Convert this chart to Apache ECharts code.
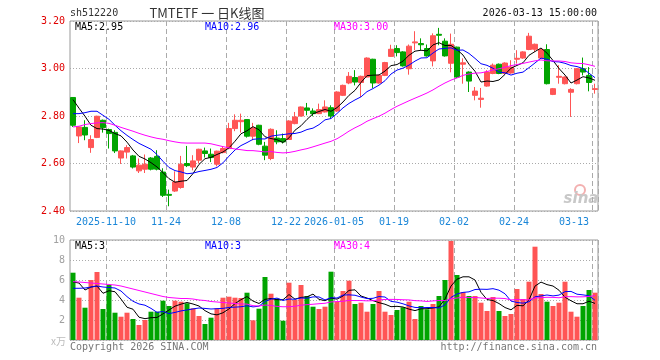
<!DOCTYPE html>
<html><head><meta charset="utf-8">
<script src="https://cdn.jsdelivr.net/npm/echarts@6/dist/echarts.min.js"></script>
<style>html,body{margin:0;padding:0;background:#fff}#c{width:660px;height:360px}</style>
</head><body><div id="c"></div>
<script>
const dates = ['2025-10-31','2025-11-03','2025-11-04','2025-11-05','2025-11-06','2025-11-07','2025-11-10','2025-11-11','2025-11-12','2025-11-13','2025-11-14','2025-11-17','2025-11-18','2025-11-19','2025-11-20','2025-11-21','2025-11-24','2025-11-25','2025-11-26','2025-11-27','2025-11-28','2025-12-01','2025-12-02','2025-12-03','2025-12-04','2025-12-05','2025-12-08','2025-12-09','2025-12-10','2025-12-11','2025-12-12','2025-12-15','2025-12-16','2025-12-17','2025-12-18','2025-12-19','2025-12-22','2025-12-23','2025-12-24','2025-12-25','2025-12-26','2025-12-29','2025-12-30','2025-12-31','2026-01-05','2026-01-06','2026-01-07','2026-01-08','2026-01-09','2026-01-12','2026-01-13','2026-01-14','2026-01-15','2026-01-16','2026-01-19','2026-01-20','2026-01-21','2026-01-22','2026-01-23','2026-01-26','2026-01-27','2026-01-28','2026-01-29','2026-01-30','2026-02-02','2026-02-03','2026-02-04','2026-02-05','2026-02-06','2026-02-09','2026-02-10','2026-02-11','2026-02-12','2026-02-13','2026-02-24','2026-02-25','2026-02-26','2026-02-27','2026-03-02','2026-03-03','2026-03-04','2026-03-05','2026-03-06','2026-03-09','2026-03-10','2026-03-11','2026-03-12','2026-03-13'];

const openP = [2.878,2.716,2.752,2.667,2.710,2.782,2.743,2.731,2.623,2.648,2.632,2.569,2.576,2.623,2.630,2.564,2.470,2.484,2.499,2.600,2.585,2.614,2.653,2.639,2.597,2.646,2.663,2.747,2.776,2.785,2.715,2.761,2.673,2.621,2.707,2.705,2.701,2.768,2.800,2.834,2.821,2.810,2.817,2.835,2.821,2.887,2.939,2.962,2.941,2.964,3.039,2.939,2.971,3.051,3.084,3.070,2.999,3.108,3.105,3.084,3.032,3.144,3.115,3.022,3.090,3.018,2.985,2.887,2.870,2.926,2.979,3.018,2.979,2.981,3.039,3.044,3.080,3.081,3.044,3.080,2.891,2.963,2.936,2.900,2.936,2.999,2.971,2.912];
const closeP = [2.761,2.754,2.720,2.701,2.799,2.751,2.726,2.653,2.653,2.667,2.585,2.593,2.597,2.576,2.576,2.466,2.466,2.522,2.597,2.591,2.611,2.660,2.642,2.625,2.652,2.663,2.747,2.782,2.782,2.715,2.750,2.681,2.635,2.744,2.691,2.691,2.779,2.796,2.838,2.824,2.810,2.827,2.838,2.800,2.901,2.929,2.967,2.943,2.967,3.044,2.939,2.971,3.025,3.081,3.067,3.011,3.094,3.112,3.100,3.053,3.138,3.140,3.053,3.102,2.964,3.024,2.947,2.905,2.875,2.985,3.014,2.979,3.023,3.006,3.043,3.070,3.136,3.102,3.080,2.936,2.915,2.967,2.964,2.912,2.999,2.985,2.941,2.915];
const lowP = [2.754,2.686,2.698,2.645,2.707,2.730,2.663,2.644,2.598,2.621,2.579,2.560,2.560,2.571,2.571,2.459,2.420,2.480,2.494,2.585,2.571,2.600,2.625,2.606,2.588,2.643,2.660,2.736,2.730,2.709,2.698,2.677,2.614,2.614,2.681,2.684,2.699,2.765,2.798,2.803,2.799,2.808,2.815,2.789,2.817,2.884,2.934,2.929,2.880,2.962,2.918,2.936,2.968,3.049,3.051,3.008,2.974,3.077,3.077,3.050,3.009,3.098,3.050,2.984,2.960,2.936,2.901,2.866,2.835,2.923,2.976,2.976,2.976,2.978,3.021,3.041,3.077,3.070,3.041,2.933,2.888,2.936,2.933,2.796,2.933,2.971,2.904,2.894];
const highP = [2.880,2.756,2.782,2.719,2.801,2.785,2.747,2.740,2.655,2.677,2.636,2.621,2.638,2.627,2.656,2.580,2.490,2.567,2.632,2.674,2.635,2.662,2.667,2.663,2.654,2.670,2.771,2.807,2.810,2.787,2.771,2.763,2.691,2.748,2.740,2.726,2.782,2.817,2.840,2.855,2.832,2.852,2.866,2.845,2.904,2.932,2.985,2.993,2.970,3.047,3.041,2.974,3.028,3.100,3.098,3.073,3.101,3.157,3.127,3.101,3.148,3.171,3.127,3.147,3.092,3.043,2.988,2.922,2.918,2.993,3.021,3.021,3.026,3.035,3.077,3.073,3.150,3.105,3.083,3.102,2.918,3.014,2.967,2.917,3.002,3.046,3.006,2.936];
const volume = [6.73,4.23,3.23,6.0,6.8,3.1,5.5,2.73,2.33,2.73,2.1,1.5,2.0,2.83,2.83,3.93,3.4,3.93,3.83,3.67,3.17,2.4,1.6,2.23,3.17,4.23,4.33,4.23,4.2,4.73,1.97,3.13,6.3,4.63,4.13,1.93,5.73,4.0,5.5,4.4,3.33,3.1,3.33,6.83,3.83,4.9,5.93,3.6,3.73,2.83,3.6,4.9,2.83,2.5,3.0,3.27,3.83,2.1,3.4,3.07,3.6,4.4,6.0,9.9,6.5,4.8,4.4,4.4,3.73,2.9,4.3,2.9,2.4,2.6,5.1,4.1,5.83,9.33,4.6,3.83,3.4,3.73,5.83,2.83,2.33,3.4,5.0,4.73];

// moving-average values before a full window exists
const ma5Early = [2.869,2.833,2.799,2.761];
const ma10Early = [2.810,2.810,2.814,2.820,2.820,2.803,2.786,2.761,2.738];
const ma30Early = [2.754,2.757,2.764,2.768,2.771,2.772,2.769,2.761,2.752,2.744,2.736,2.727,2.719,2.712,2.706,2.702,2.696,2.691,2.687,2.686,2.686,2.686,2.686,2.683,2.677,2.671,2.666,2.661,2.658];
const vma5Early = [5.8,5.7,5.0,5.3];
const vma10Early = [5.17,5.17,5.2,5.3,5.4,5.3,5.25,5.2,4.9];
const vma30Early = [5.83,5.8,5.75,5.7,5.65,5.6,5.55,5.5,5.4,5.25,5.1,4.95,4.8,4.65,4.5,4.35,4.25,4.2,4.15,4.15,4.1,4.0,3.95,3.85,3.8,3.75,3.7,3.65,3.6];

const tickDates = ['2025-11-10','2025-11-24','2025-12-08','2025-12-22','2026-01-05','2026-01-19','2026-02-02','2026-02-24','2026-03-13'];
const tickTexts = ['2025-11-10','11-24','12-08','12-22','2026-01-05','01-19','02-02','02-24','03-13'];
const priceTicks = [2.40, 2.60, 2.80, 3.00, 3.20];
const volTicks = [0, 2, 4, 6, 8, 10];
const priceLegend = ['MA5:2.95','MA10:2.96','MA30:3.00'];
const volLegend = ['MA5:3','MA10:3','MA30:4'];
const titleTexts = ['sh512220','TMTETF 一 日K线图','2026-03-13 15:00:00'];

function movingAvg(vals, n, early) {
  return vals.map((v, i) => {
    if (i < n - 1) return early[i];
    let s = 0;
    for (let k = i - n + 1; k <= i; k++) s += vals[k];
    return +(s / n).toFixed(4);
  });
}

const RED = '#ff5555', GREEN = '#00a400';
const MONO = 'DejaVu Sans Mono';
const tickIdx = tickDates.map(d => dates.indexOf(d));
const kData = dates.map((d, i) => [openP[i], closeP[i], lowP[i], highP[i]]);
const volData = volume.map((v, i) => ({ value: v, itemStyle: { color: closeP[i] >= openP[i] ? RED : GREEN } }));

const chart = echarts.init(document.getElementById('c'), null, { renderer: 'canvas' });
const xBase = (gi, showLabel) => ({
  type: 'category', gridIndex: gi, data: dates, boundaryGap: true,
  axisLine: { show: false }, axisTick: { show: false },
  axisLabel: {
    show: showLabel, interval: (idx) => tickIdx.includes(idx),
    formatter: (v) => { const k = tickDates.indexOf(v); return k >= 0 ? tickTexts[k] : ''; },
    color: '#1a86d8', fontFamily: MONO, fontSize: 10, margin: 6, padding: [0, 6, 0, 0],
    alignMaxLabel: 'right'
  },
  splitLine: { show: true, interval: (idx) => tickIdx.includes(idx), lineStyle: { color: '#aaa', type: [5, 3], width: 1 } }
});
const lineS = (name, data, color, xi) => ({
  name, type: 'line', data, xAxisIndex: xi, yAxisIndex: xi, showSymbol: false, symbol: 'none',
  lineStyle: { color, width: 1 }, silent: true, z: 5
});

chart.setOption({
  animation: false,
  backgroundColor: '#fff',
  grid: [
    { left: 70, right: 62, top: 21, height: 190, show: true, borderColor: '#999', borderWidth: 1 },
    { left: 70, right: 62, top: 240, height: 100, show: true, borderColor: '#999', borderWidth: 1 }
  ],
  xAxis: [xBase(0, true), xBase(1, false)],
  yAxis: [
    { type: 'value', gridIndex: 0, min: priceTicks[0], max: priceTicks[priceTicks.length - 1], interval: 0.2,
      axisLine: { show: false }, axisTick: { show: false },
      axisLabel: { color: '#e00000', fontFamily: MONO, fontSize: 10, margin: 5, formatter: v => v.toFixed(2) },
      splitLine: { lineStyle: { color: '#aaa', type: [1, 2], width: 1 } } },
    { type: 'value', gridIndex: 1, min: volTicks[0], max: volTicks[volTicks.length - 1], interval: 2,
      axisLine: { show: false }, axisTick: { show: false },
      axisLabel: { color: '#a0a0a0', fontFamily: MONO, fontSize: 10, margin: 5, formatter: v => v === 0 ? '' : String(v) },
      splitLine: { lineStyle: { color: '#aaa', type: [1, 2], width: 1 } } }
  ],
  series: [
    { type: 'candlestick', data: kData, xAxisIndex: 0, yAxisIndex: 0, barWidth: 5,
      itemStyle: { color: RED, color0: GREEN, borderColor: RED, borderColor0: GREEN, borderWidth: 1 }, z: 3 },
    lineS('MA5', movingAvg(closeP, 5, ma5Early), '#000', 0),
    lineS('MA10', movingAvg(closeP, 10, ma10Early), '#0000ff', 0),
    lineS('MA30', movingAvg(closeP, 30, ma30Early), '#ff00ff', 0),
    { type: 'bar', data: volData, xAxisIndex: 1, yAxisIndex: 1, barWidth: 5, z: 3 },
    lineS('VMA5', movingAvg(volume, 5, vma5Early), '#000', 1),
    lineS('VMA10', movingAvg(volume, 10, vma10Early), '#0000ff', 1),
    lineS('VMA30', movingAvg(volume, 30, vma30Early), '#ff00ff', 1)
  ],
  graphic: [
    { type: 'text', style: { text: titleTexts[0], x: 70, y: 13, align: 'left', verticalAlign: 'middle', fill: '#333', font: '10px "DejaVu Sans Mono"' } },
    { type: 'text', style: { text: titleTexts[1], x: 207, y: 13, align: 'center', verticalAlign: 'middle', fill: '#333', font: '13px "Noto Sans CJK SC"' } },
    { type: 'text', style: { text: titleTexts[2], x: 597, y: 13, align: 'right', verticalAlign: 'middle', fill: '#111', font: '10px "DejaVu Sans Mono"' } },
    { type: 'text', z: 20, style: { text: priceLegend[0], x: 75, y: 27, align: 'left', verticalAlign: 'middle', fill: '#000', font: '10px "DejaVu Sans Mono"' } },
    { type: 'text', z: 20, style: { text: priceLegend[1], x: 205, y: 27, align: 'left', verticalAlign: 'middle', fill: '#0000ff', font: '10px "DejaVu Sans Mono"' } },
    { type: 'text', z: 20, style: { text: priceLegend[2], x: 334, y: 27, align: 'left', verticalAlign: 'middle', fill: '#ff00ff', font: '10px "DejaVu Sans Mono"' } },
    { type: 'text', z: 20, style: { text: volLegend[0], x: 75, y: 246, align: 'left', verticalAlign: 'middle', fill: '#000', font: '10px "DejaVu Sans Mono"' } },
    { type: 'text', z: 20, style: { text: volLegend[1], x: 205, y: 246, align: 'left', verticalAlign: 'middle', fill: '#0000ff', font: '10px "DejaVu Sans Mono"' } },
    { type: 'text', z: 20, style: { text: volLegend[2], x: 334, y: 246, align: 'left', verticalAlign: 'middle', fill: '#ff00ff', font: '10px "DejaVu Sans Mono"' } },
    { type: 'text', style: { text: 'x万', x: 66, y: 341, align: 'right', verticalAlign: 'middle', fill: '#bbb', font: '10px "Noto Sans CJK SC"' } },
    { type: 'text', style: { text: 'Copyright 2026 SINA.COM', x: 70, y: 347, align: 'left', verticalAlign: 'middle', fill: '#777', font: '10px "DejaVu Sans Mono"' } },
    { type: 'text', style: { text: 'http://finance.sina.com.cn', x: 597, y: 347, align: 'right', verticalAlign: 'middle', fill: '#777', font: '10px "DejaVu Sans Mono"' } },
    { type: 'circle', shape: { cx: 580, cy: 190, r: 5 }, style: { fill: 'none', stroke: '#f3b0b0', lineWidth: 2 } },
    { type: 'text', style: { text: 'sina', x: 581, y: 199, align: 'center', verticalAlign: 'middle', fill: '#c8c8c8', font: 'italic bold 15px "DejaVu Sans"' } }
  ]
});
</script></body></html>
